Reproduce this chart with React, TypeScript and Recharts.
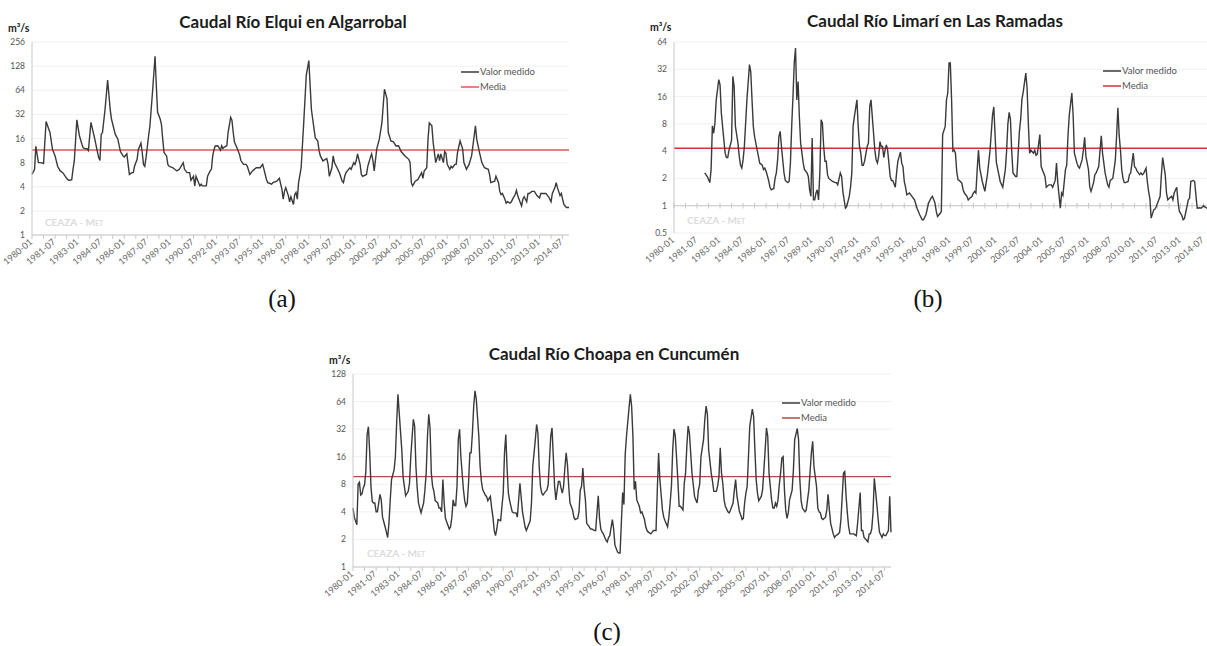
import React from 'react';
import { CartesianGrid, Line, LineChart, ReferenceLine, XAxis, YAxis } from 'recharts';

const FONT = 'Lato, "Open Sans", sans-serif';

// x axis: months counted from 1980-01, a label every 18 months
const dateLabels = [
  '1980-01', '1981-07', '1983-01', '1984-07', '1986-01', '1987-07', '1989-01', '1990-07',
  '1992-01', '1993-07', '1995-01', '1996-07', '1998-01', '1999-07', '2001-01', '2002-07',
  '2004-01', '2005-07', '2007-01', '2008-07', '2010-01', '2011-07', '2013-01', '2014-07',
];
const xTicks = dateLabels.flatMap((_, i) => (i < dateLabels.length - 1 ? [i * 18, i * 18 + 9] : [i * 18]));

// (a) Río Elqui en Algarrobal
const elquiMonth = [
  0, 2, 3, 5, 6, 7, 9, 11, 14, 16,
  18, 20, 22, 24, 26, 27, 28, 29, 31, 32,
  33, 35, 37, 39, 40, 42, 43, 44, 46, 49,
  51, 52, 53, 54, 55, 57, 59, 61, 62, 65,
  67, 69, 71, 72, 74, 75, 76, 78, 79, 80,
  82, 83, 85, 86, 87, 88, 89, 91, 92, 94,
  96, 97, 98, 100, 101, 102, 103, 105, 106, 107,
  110, 113, 115, 118, 119, 121, 123, 124, 126, 127,
  128, 130, 131, 132, 133, 136, 137, 139, 140, 141,
  142, 143, 145, 147, 148, 149, 150, 152, 153, 155,
  156, 157, 158, 160, 162, 163, 165, 167, 168, 170,
  172, 175, 178, 180, 181, 183, 184, 187, 188, 191,
  193, 195, 196, 197, 198, 200, 201, 202, 204, 205,
  206, 207, 208, 210, 212, 214, 216, 218, 219, 221,
  223, 224, 225, 227, 230, 231, 232, 234, 235, 236,
  238, 240, 242, 243, 244, 245, 247, 248, 249, 251,
  252, 253, 254, 256, 257, 258, 261, 262, 264, 265,
  266, 267, 269, 271, 273, 275, 277, 278, 280, 282,
  284, 286, 288, 291, 294, 295, 296, 297, 299, 301,
  304, 305, 306, 308, 309, 310, 312, 313, 315, 317,
  318, 319, 321, 322, 323, 324, 326, 327, 328, 330,
  331, 332, 334, 336, 337, 339, 341, 343, 344, 346,
  347, 349, 351, 353, 356, 357, 358, 361, 362, 364,
  365, 366, 367, 369, 370, 371, 373, 374, 375, 377,
  378, 379, 380, 382, 383, 384, 386, 387, 388, 390,
  392, 394, 395, 396, 397, 399, 401, 403, 404, 405,
  406, 408, 409, 410, 412, 413, 414, 415, 417, 419,
];
const elquiFlow = [
  5.7, 6.6, 12.8, 8, 8, 8, 7.8, 26, 19, 11.7,
  9.7, 7.2, 6.3, 6, 5.4, 5.1, 4.9, 4.8, 4.9, 6.6,
  8.4, 27.4, 17.3, 13.5, 12.2, 11.9, 11.9, 11.3, 25.4, 15.7,
  11, 9.3, 8.5, 18, 19, 37, 86, 37, 28, 18,
  15.7, 11, 9.7, 9.4, 10.3, 7.6, 5.7, 6, 6, 7.2,
  8.8, 11.7, 14, 10.7, 7.6, 7.2, 9.3, 17.3, 23, 60,
  170, 73, 34, 28, 24, 15.7, 10.7, 9.7, 7.6, 7.2,
  6.9, 6.3, 6.6, 8, 6.6, 6, 6, 4.8, 5.4, 4.1,
  5.4, 4.5, 4.1, 4.3, 4.1, 4.1, 5.4, 6.3, 6.6, 9.7,
  11.6, 12.9, 13, 11.4, 13, 12, 12.5, 13, 19, 29.3,
  27, 19, 14.3, 12.2, 10, 8.5, 7.6, 7.6, 7.2, 5.7,
  6.3, 6.9, 6.9, 7.6, 6.6, 4.9, 4.5, 4.3, 4.5, 4.7,
  5.1, 3.7, 2.8, 3.5, 3.9, 3.1, 2.6, 3, 2.4, 3.2,
  3.4, 2.8, 4.5, 6.9, 25, 98, 150, 37, 28, 16.4,
  14.9, 11.2, 9.7, 8.4, 9, 7.6, 5.4, 6.9, 9.7, 8,
  6.9, 5.9, 4.7, 4.5, 5.4, 6, 6.6, 6.9, 6.6, 8,
  7.6, 8.5, 10.3, 7.6, 5.7, 5.4, 5.7, 7.2, 9.3, 10.3,
  8.5, 6.3, 11.9, 15.7, 25, 66, 50, 19, 14.9, 14.5,
  12.9, 13, 11, 9.7, 8.8, 8, 4.5, 4.1, 4.7, 4.9,
  6, 5.1, 6.3, 6.9, 15.7, 25, 23, 14.3, 8, 10.3,
  8.5, 10.3, 8, 11, 10.4, 7.6, 6.6, 7.2, 6.9, 7.6,
  7.6, 10.7, 14.9, 11.9, 8, 6.6, 7.6, 9.7, 12.9, 23,
  15.7, 11, 8, 6.9, 6.6, 5.7, 4.5, 4.7, 5.4, 4.5,
  3.5, 3.2, 3.3, 2.8, 2.5, 2.6, 2.5, 2.6, 2.8, 3.2,
  3.6, 3.1, 2.8, 2.3, 2.8, 3, 2.6, 3.3, 3.3, 3.5,
  3.5, 3.1, 3, 2.9, 3.3, 3.3, 3.3, 3, 2.8, 2.6,
  3.3, 3.9, 4.5, 3.9, 3.1, 3.3, 2.8, 2.4, 2.2, 2.2,
];
const elquiTicks = [1, 2, 4, 8, 16, 32, 64, 128, 256];
const elquiMedia = 11.5;

// (b) Río Limarí en Las Ramadas
const limariMonth = [
  24, 26, 28, 29, 30, 31, 32, 33, 35, 36,
  37, 39, 40, 41, 42, 43, 45, 46, 47, 48,
  50, 51, 52, 53, 54, 55, 57, 59, 60, 61,
  62, 63, 65, 66, 67, 69, 70, 71, 72, 74,
  75, 76, 78, 79, 80, 81, 82, 83, 84, 85,
  86, 87, 89, 90, 91, 92, 93, 94, 95, 96,
  97, 98, 99, 100, 101, 102, 104, 105, 106, 107,
  108, 109, 110, 111, 112, 113, 114, 115, 116, 117,
  118, 119, 120, 121, 123, 124, 126, 127, 128, 130,
  131, 132, 133, 134, 135, 137, 138, 139, 140, 141,
  143, 144, 145, 146, 147, 148, 149, 151, 152, 153,
  154, 156, 157, 158, 159, 160, 161, 162, 163, 164,
  165, 166, 167, 168, 169, 170, 171, 173, 174, 175,
  177, 178, 179, 180, 181, 182, 184, 186, 188, 190,
  192, 194, 195, 197, 199, 201, 202, 204, 205, 206,
  208, 209, 210, 212, 213, 214, 215, 216, 217, 218,
  219, 220, 221, 222, 223, 225, 226, 227, 229, 230,
  231, 233, 234, 235, 236, 237, 238, 239, 241, 243,
  245, 247, 249, 250, 251, 252, 255, 257, 259, 260,
  261, 262, 263, 264, 265, 267, 268, 270, 271, 272,
  273, 275, 276, 277, 278, 279, 281, 282, 283, 284,
  286, 287, 290, 291, 293, 295, 296, 298, 299, 300,
  302, 303, 304, 306, 307, 308, 309, 311, 312, 313,
  315, 316, 317, 319, 320, 321, 322, 324, 325, 326,
  328, 329, 330, 332, 333, 334, 335, 337, 339, 340,
  341, 343, 344, 345, 346, 347, 348, 349, 350, 351,
  352, 353, 355, 356, 357, 359, 360, 361, 362, 364,
  365, 366, 367, 369, 370, 371, 372, 373, 375, 376,
  377, 380, 381, 382, 384, 385, 386, 387, 389, 390,
  391, 393, 394, 395, 397, 398, 399, 401, 402, 403,
  404, 406, 407, 408, 409, 411, 412, 414, 415, 417,
  419,
];
const limariFlow = [
  2.3, 2.1, 1.8, 2.5, 7.6, 6.3, 8.2, 14.7, 24.6, 21.6,
  10.5, 5.3, 3.8, 3.4, 3.4, 4.1, 5.3, 26.7, 20.7, 7.5,
  4.9, 3.5, 2.8, 2.6, 3.2, 4.5, 14.7, 36, 30, 14.7,
  7.5, 5.8, 4.1, 3.5, 2.95, 2.8, 2.5, 2.6, 2.4, 1.9,
  1.6, 1.5, 1.55, 2, 2.3, 3.2, 5.8, 6.6, 4.5, 3.2,
  2.3, 1.9, 1.8, 1.85, 2.95, 7.5, 16, 37.5, 55, 14.7,
  23.5, 9.6, 4.9, 3.8, 2.95, 2.5, 2.3, 2.1, 1.5, 1.27,
  5.6, 1.16, 1.16, 1.38, 1.5, 1.16, 2.3, 8.9, 8.2, 4.5,
  3.1, 3.1, 2.2, 2, 1.9, 1.85, 1.8, 1.8, 1.7, 2.3,
  2.1, 1.44, 1.16, 0.94, 0.98, 1.27, 1.6, 2.3, 7.5, 9.6,
  14.7, 7.5, 4.5, 3.8, 2.8, 2.8, 3.1, 4.5, 4.9, 12.4,
  14.7, 6.3, 4.1, 3.2, 2.95, 3.5, 5.1, 4.5, 4.5, 3.4,
  4.1, 4.7, 4.1, 2.95, 2.1, 1.9, 1.9, 1.6, 2.3, 3.1,
  3.9, 2.95, 2.7, 1.85, 1.6, 1.32, 1.38, 1.27, 1.16, 0.94,
  0.8, 0.7, 0.7, 0.8, 1.07, 1.22, 1.27, 1.07, 0.87, 0.76,
  0.82, 0.87, 6.1, 7.5, 14.7, 17.5, 37.5, 37.5, 14.7, 4,
  4.1, 3.8, 2.4, 1.93, 1.9, 1.78, 1.5, 1.38, 1.27, 1.16,
  1.2, 1.27, 1.38, 1.44, 1.38, 2.5, 4.1, 2.6, 1.85, 1.44,
  2.2, 4, 10, 12.3, 6, 3, 1.85, 1.6, 2.5, 4,
  8, 10.7, 9, 4, 2.3, 2.1, 2.1, 6.6, 9, 15,
  18, 29, 20, 8, 3.8, 4.1, 3.8, 4.1, 3.6, 3.7,
  6.1, 2.7, 2.1, 1.6, 1.7, 1.7, 1.6, 1.9, 2.95, 1.8,
  0.94, 1.38, 1.3, 2.5, 2.8, 6, 10, 17.5, 10, 3.8,
  2.95, 2.7, 2.6, 3.2, 4.1, 5.7, 3.5, 2.5, 1.6, 1.44,
  1.8, 2.2, 2.3, 2.7, 4, 5.9, 3.8, 2.3, 1.7, 1.6,
  1.9, 2, 2.5, 3.2, 6, 12, 6, 4.1, 2.5, 2,
  1.8, 1.8, 1.85, 2.2, 2.3, 3.8, 2.7, 2.6, 2.4, 2.2,
  2.3, 2.2, 2.25, 2.6, 1.85, 1.44, 1.2, 0.73, 0.9, 0.92,
  0.98, 1.27, 2.2, 3.4, 2.2, 1.38, 1.16, 1.2, 1.27, 1.16,
  1.38, 1.6, 1.1, 0.87, 0.78, 0.7, 0.72, 0.98, 1.16, 1.2,
  1.85, 1.9, 1.85, 1.3, 0.94, 0.95, 0.94, 1, 0.97, 0.93,
  0.95,
];
const limariTicks = [0.5, 1, 2, 4, 8, 16, 32, 64];
const limariMedia = 4.3;

// (c) Río Choapa en Cuncumén
const choapaMonth = [
  0, 1, 3, 4, 5, 6, 7, 8, 9, 10,
  11, 12, 13, 14, 15, 16, 17, 18, 19, 21,
  22, 23, 25, 26, 27, 28, 29, 30, 32, 33,
  34, 35, 36, 38, 39, 40, 41, 43, 44, 45,
  47, 48, 49, 50, 51, 52, 53, 55, 56, 57,
  58, 59, 60, 61, 62, 63, 64, 66, 67, 68,
  69, 70, 71, 72, 73, 75, 76, 77, 78, 79,
  80, 81, 82, 83, 84, 86, 87, 88, 89, 90,
  91, 92, 93, 94, 95, 96, 98, 99, 100, 101,
  103, 104, 105, 107, 108, 109, 110, 111, 112, 113,
  115, 116, 117, 118, 119, 120, 121, 122, 123, 124,
  125, 127, 128, 129, 130, 132, 134, 135, 138, 139,
  140, 142, 143, 144, 145, 146, 147, 148, 150, 151,
  152, 154, 155, 156, 157, 158, 159, 160, 161, 162,
  163, 164, 165, 166, 167, 168, 169, 171, 172, 173,
  175, 176, 177, 178, 179, 180, 181, 182, 184, 185,
  186, 188, 189, 190, 191, 192, 193, 194, 195, 197,
  198, 199, 200, 202, 203, 204, 206, 207, 208, 210,
  211, 212, 213, 215, 216, 217, 218, 219, 220, 221,
  223, 224, 225, 227, 228, 229, 230, 232, 233, 234,
  236, 237, 238, 239, 241, 242, 243, 245, 246, 247,
  248, 249, 250, 251, 253, 254, 255, 257, 258, 259,
  260, 261, 262, 264, 265, 266, 267, 268, 269, 270,
  271, 273, 274, 275, 276, 277, 279, 280, 281, 283,
  284, 285, 286, 287, 288, 289, 290, 292, 293, 294,
  296, 297, 298, 299, 301, 302, 303, 304, 305, 306,
  307, 308, 309, 311, 312, 313, 314, 315, 316, 318,
  319, 321, 322, 323, 324, 326, 327, 328, 329, 330,
  331, 332, 333, 334, 335, 336, 337, 338, 339, 340,
  342, 343, 344, 346, 347, 348, 349, 350, 352, 353,
  354, 355, 357, 358, 359, 361, 362, 363, 364, 365,
  366, 368, 369, 370, 371, 372, 374, 375, 376, 378,
  379, 380, 381, 382, 383, 384, 385, 386, 387, 389,
  390, 392, 393, 395, 396, 397, 398, 400, 401, 402,
  403, 404, 405, 406, 408, 409, 410, 412, 413, 414,
  415, 417, 418, 419,
];
const choapaFlow = [
  4.4, 3.5, 2.9, 8, 8.4, 6.1, 6.3, 7.3, 7.9, 11,
  28, 34, 18, 7.5, 5.2, 5, 5, 4, 4, 6.2,
  5.4, 3.5, 2.75, 2.4, 2.1, 3, 5.4, 9, 11.5, 16,
  37.6, 77, 48, 19, 9.7, 7.6, 6, 6.7, 8.2, 16,
  41, 34.5, 12.5, 7.3, 5, 4.4, 3.9, 5, 6.9, 10.6,
  26.8, 46.5, 33, 10.6, 7.6, 6.7, 5.3, 5, 4.4, 4.4,
  4, 9, 5, 3.4, 3.1, 2.6, 2.75, 3.5, 5.4, 4.7,
  4.7, 7.6, 24.6, 31.8, 16, 7, 5.3, 4.6, 5, 8.3,
  17.6, 17.6, 29, 57, 84, 68, 26.8, 12.5, 8.6, 7,
  6.1, 5.9, 5.3, 5.9, 4.4, 3.5, 2.5, 2.2, 2.6, 3.3,
  3.2, 4.6, 6.4, 17.6, 28, 12, 6.4, 5.3, 4.6, 4,
  3.9, 3.9, 3.5, 5.4, 8.2, 4, 2.75, 2.5, 3.2, 5,
  12.5, 24.6, 36, 29, 12.5, 7.6, 6.4, 6.1, 6.7, 6.9,
  7.9, 26.8, 33, 16, 7.6, 5.4, 6.9, 8.6, 8.6, 7.3,
  6.4, 7.6, 12, 17.6, 13.2, 7.6, 5, 4.2, 3.5, 3.3,
  3.4, 4, 6.9, 7.6, 12, 7.3, 5.4, 3, 2.75, 2.6,
  2.6, 2.5, 2.5, 3.9, 6, 3.4, 2.6, 2.4, 2.3, 1.96,
  1.88, 2.1, 2.2, 3.3, 2.6, 1.73, 1.46, 1.42, 1.42, 6.5,
  4.8, 16.9, 26.8, 55, 77, 57, 26.8, 7, 8.6, 5.4,
  4.6, 3.9, 4, 3.3, 2.75, 2.5, 2.4, 2.3, 2.4, 2.5,
  2.5, 7, 17.6, 9, 4.2, 3.5, 3.2, 2.75, 3.5, 5,
  7.6, 19, 32, 27, 9, 4.6, 4.6, 4.2, 8.2, 10.6,
  20.8, 34.5, 29, 10.6, 7.9, 5.9, 5.4, 5, 6.9, 8,
  16, 24.6, 41, 57, 46.5, 19, 10.6, 8.6, 6.7, 6.7,
  7.7, 9.7, 20, 10.6, 8.2, 5.4, 4.6, 4, 3.9, 4.2,
  5, 6.9, 9, 6, 4, 3.7, 3.3, 3.4, 5, 6.4,
  7.6, 16, 34.5, 53, 44, 19, 9, 6.4, 5.3, 5.9,
  7, 19, 33, 26.8, 10.6, 5.4, 4.4, 4.4, 5, 4.6,
  5.4, 7.9, 10.6, 15.5, 16, 7, 4.2, 3.4, 3.9, 5.4,
  6.9, 11.5, 24.6, 32.5, 24.6, 9, 5.3, 4.4, 4, 4.2,
  5.4, 6.9, 17.6, 23.6, 12.5, 7.6, 4.4, 4, 3.9, 3.4,
  3.3, 3.5, 4.2, 6.2, 4.2, 3, 2.3, 2.1, 2.2, 2.3,
  2.4, 3.3, 5.9, 10.6, 11, 6, 3.9, 2.75, 2.3, 2.3,
  2.3, 2.2, 3, 6.5, 2.5, 2.5, 2.1, 1.96, 1.88, 2.3,
  2.3, 2.6, 3.9, 9.3, 4.8, 3.3, 2.4, 2.1, 2.3, 2.2,
  2.2, 2.5, 5.9, 2.4,
];
const choapaTicks = [1, 2, 4, 8, 16, 32, 64, 128];
const choapaMedia = 9.7;

function DateTick({ x, y, payload }: any) {
  const v = payload.value;
  if (v % 18 !== 0) return <g />;
  return (
    <text
      x={0}
      y={0}
      transform={`translate(${x + 1},${y + 2}) rotate(-40)`}
      textAnchor="end"
      fontSize={9}
      fill="#666"
      fontFamily={FONT}
    >
      {dateLabels[v / 18]}
    </text>
  );
}

type PanelProps = {
  left: number;
  top: number;
  width: number;
  height: number;
  margin: { top: number; right: number; bottom: number; left: number };
  yWidth: number;
  xHeight: number;
  months: number[];
  flow: number[];
  yTicks: number[];
  media: number;
  mediaColor: string;
  axisAtOne?: boolean;
};

function Panel(p: PanelProps) {
  const data = p.months.map((m, i) => ({ m, v: p.flow[i] }));
  return (
    <div style={{ position: 'absolute', left: p.left, top: p.top }}>
      <LineChart width={p.width} height={p.height} data={data} margin={p.margin}>
        <CartesianGrid vertical={false} stroke="#f0f0f0" />
        <XAxis
          dataKey="m"
          type="number"
          domain={[0, 419]}
          ticks={xTicks}
          interval={0}
          tick={<DateTick />}
          height={p.xHeight}
          axisLine={p.axisAtOne ? false : { stroke: '#c8c8c8' }}
          tickLine={p.axisAtOne ? false : { stroke: '#c8c8c8' }}
          tickSize={4}
          tickMargin={2}
        />
        <YAxis
          type="number"
          scale="log"
          domain={[p.yTicks[0], p.yTicks[p.yTicks.length - 1]]}
          ticks={p.yTicks}
          interval={0}
          allowDataOverflow
          width={p.yWidth}
          axisLine={{ stroke: '#c8c8c8' }}
          tickLine={false}
          tickSize={5}
          tickMargin={2}
          tick={{ fontSize: 8.5, fill: '#555', fontFamily: FONT }}
        />
        {p.axisAtOne && <ReferenceLine y={1} stroke="#c8c8c8" />}
        {p.axisAtOne &&
          xTicks.map((t) => (
            <ReferenceLine key={t} segment={[{ x: t, y: 0.93 }, { x: t, y: 1.075 }]} stroke="#c8c8c8" />
          ))}
        <ReferenceLine y={p.media} stroke={p.mediaColor} strokeWidth={1.4} />
        <Line dataKey="v" type="linear" stroke="#3a3a3a" strokeWidth={1.4} dot={false} isAnimationActive={false} />
      </LineChart>
    </div>
  );
}

function Title({ cx, top, text }: { cx: number; top: number; text: string }) {
  return (
    <div
      style={{
        position: 'absolute', left: cx - 200, width: 400, top, textAlign: 'center',
        fontSize: 17, lineHeight: '17px', fontWeight: 700, color: '#1c1c1c', fontFamily: FONT,
      }}
    >
      {text}
    </div>
  );
}

function Unit({ left, top }: { left: number; top: number }) {
  return (
    <div style={{ position: 'absolute', left, top, fontSize: 10.5, lineHeight: '10px', fontWeight: 700, color: '#222', fontFamily: FONT }}>
      m³/s
    </div>
  );
}

function Legend({ left, top, mediaColor }: { left: number; top: number; mediaColor: string }) {
  const items = [
    { name: 'Valor medido', color: '#3a3a3a' },
    { name: 'Media', color: mediaColor },
  ];
  return (
    <div style={{ position: 'absolute', left, top, fontFamily: FONT, fontSize: 9.5, color: '#555' }}>
      {items.map((it) => (
        <div key={it.name} style={{ display: 'flex', alignItems: 'center', height: 15 }}>
          <svg width={18} height={4} style={{ marginRight: 1 }}>
            <line x1={0} y1={2} x2={18} y2={2} stroke={it.color} strokeWidth={1.5} />
          </svg>
          <span>{it.name}</span>
        </div>
      ))}
    </div>
  );
}

function Watermark({ left, top }: { left: number; top: number }) {
  return (
    <div style={{ position: 'absolute', left, top, fontSize: 10, lineHeight: '10px', fontWeight: 700, color: '#dcdcdc', fontFamily: FONT }}>
      CEAZA - <span style={{ fontVariant: 'small-caps' }}>Met</span>
    </div>
  );
}

function Caption({ cx, cy, text }: { cx: number; cy: number; text: string }) {
  return (
    <div
      style={{
        position: 'absolute', left: cx - 30, width: 60, top: cy - 13, textAlign: 'center',
        fontSize: 25, lineHeight: '26px', fontFamily: '"Liberation Serif", "DejaVu Serif", serif', color: '#111',
      }}
    >
      {text}
    </div>
  );
}

export default function App() {
  return (
    <div
      style={{
        position: 'absolute', left: 0, top: 0, width: 1207, height: 646,
        background: '#fff', overflow: 'hidden', fontFamily: FONT,
      }}
    >
      <Panel
        left={0} top={0} width={575} height={290}
        margin={{ top: 42, right: 6, bottom: 5, left: 0 }}
        yWidth={32} xHeight={50}
        months={elquiMonth} flow={elquiFlow} yTicks={elquiTicks}
        media={elquiMedia} mediaColor="#dc5a5a"
      />
      <Panel
        left={640} top={0} width={575} height={290}
        margin={{ top: 42, right: 5, bottom: 5, left: 0 }}
        yWidth={34} xHeight={52}
        months={limariMonth} flow={limariFlow} yTicks={limariTicks}
        media={limariMedia} mediaColor="#d23434" axisAtOne
      />
      <Panel
        left={320} top={330} width={576} height={292}
        margin={{ top: 44, right: 5, bottom: 5, left: 0 }}
        yWidth={33} xHeight={50}
        months={choapaMonth} flow={choapaFlow} yTicks={choapaTicks}
        media={choapaMedia} mediaColor="#b54a4a"
      />

      <Title cx={293} top={13} text="Caudal Río Elqui en Algarrobal" />
      <Title cx={935} top={12} text="Caudal Río Limarí en Las Ramadas" />
      <Title cx={614} top={345} text="Caudal Río Choapa en Cuncumén" />

      <Unit left={8} top={23} />
      <Unit left={650} top={22} />
      <Unit left={329} top={355} />

      <Legend left={461} top={64} mediaColor="#dc5a5a" />
      <Legend left={1103} top={63} mediaColor="#d23434" />
      <Legend left={782} top={395} mediaColor="#b54a4a" />

      <Watermark left={45} top={217} />
      <Watermark left={687} top={215} />
      <Watermark left={367} top={548} />

      <Caption cx={282} cy={299} text="(a)" />
      <Caption cx={928} cy={299} text="(b)" />
      <Caption cx={607} cy={632} text="(c)" />
    </div>
  );
}
